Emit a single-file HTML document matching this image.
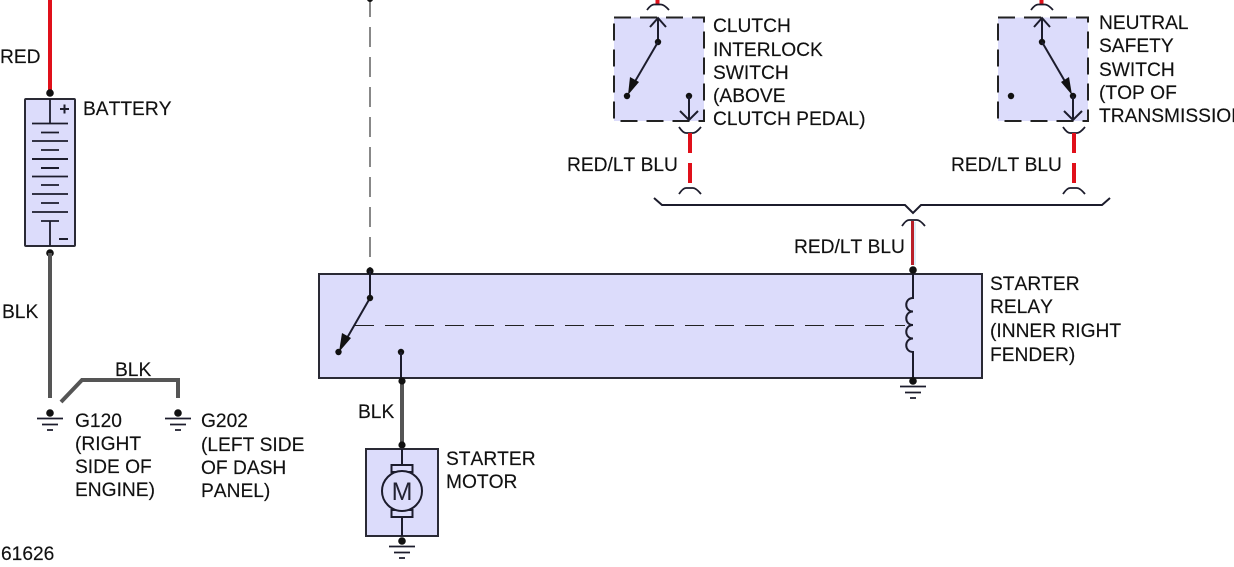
<!DOCTYPE html>
<html><head><meta charset="utf-8"><style>
html,body{margin:0;padding:0;background:#fff;width:1234px;height:567px;overflow:hidden}
svg{display:block}
text{font-family:"Liberation Sans",Arial,sans-serif;font-size:19.2px;fill:#111;font-kerning:none;stroke:#111;stroke-width:.15}
.b{fill:#dcdcfb;stroke:#2a2a35;stroke-width:2}
.d{fill:#dcdcfb;stroke:#222;stroke-width:2;stroke-dasharray:17 9}
.l{stroke:#1c1c2c;stroke-width:2;fill:none}
.t{stroke:#1c1c2c;stroke-width:1.8;fill:none}
.k{stroke:#555;stroke-width:4;fill:none}
.r{stroke:#e0101a;stroke-width:4;fill:none}
.o{fill:#111}
</style></head><body>
<svg width="1234" height="567" viewBox="0 0 1234 567" xmlns="http://www.w3.org/2000/svg">
<defs>
<g id="gnd"><circle class="o" r="3.8" cx="0" cy="0"/><path class="t" d="M-13 5.500H13M-8 11.500H8M-3 17H3"/></g>
</defs>

<!-- battery -->
<path class="r" d="M50 0V93"/>
<circle class="o" cx="50" cy="93" r="3.800"/>
<rect class="b" x="25" y="99" width="50" height="147" rx="1"/>
<path class="t" d="M50 99V123M50 221V246"/>
<path class="t" d="M32 123.500H68M41 132.500H59M32 141H68M41 150H59M41 221H59M32 176.500H68M41 185H59M32 194H68M41 203H59M32 212H68"/>
<path class="l" d="M32 159H68M41 168H59"/>
<path class="l" d="M60 109H69M64.500 104.500V113.500M59 239H68"/>
<circle class="o" cx="50" cy="253" r="3.800"/>
<path class="k" d="M50 253V398"/>
<path class="k" d="M61 402L82 380H178V398"/>
<use href="#gnd" x="50" y="413"/>
<use href="#gnd" x="178" y="413"/>

<!-- starter relay -->
<path d="M370 0V270" stroke="#888" stroke-width="2" stroke-dasharray="20 10" stroke-dashoffset="3" fill="none"/>
<circle class="o" cx="370" cy="-1" r="3"/>
<rect class="b" x="319" y="274" width="663" height="104"/>
<path d="M355 325.500H905" stroke="#222" stroke-width="1" stroke-dasharray="19 11" fill="none"/>
<circle class="o" cx="370" cy="271" r="3.600"/>
<path class="l" d="M370 271V298M370 298L343 345"/>
<circle class="o" cx="370" cy="298" r="3.200"/>
<polygon class="o" points="339,352 342,333 351,338"/>
<circle class="o" cx="338.500" cy="352" r="3.200"/>
<circle class="o" cx="401" cy="352" r="3.200"/>
<path class="l" d="M401 352V380"/>
<path class="k" d="M402 381V445"/>
<circle class="o" cx="402" cy="381" r="3.600"/>
<circle class="o" cx="402" cy="445" r="3.600"/>
<!-- coil -->
<path class="l" d="M913 274V298C904 298 904 311.500 913 311.500C904 311.500 904 325 913 325C904 325 904 338.500 913 338.500C904 338.500 904 352 913 352V378"/>
<use href="#gnd" x="913" y="381"/>

<!-- motor -->
<rect class="b" x="366" y="449" width="72" height="87"/>
<path class="l" d="M402 449V465M402 517V536"/>
<rect class="l" x="391.500" y="465" width="21" height="7"/>
<rect class="l" x="391.500" y="510" width="21" height="7"/>
<circle cx="402" cy="491" r="20" fill="#dcdcfb" stroke="#1c1c2c" stroke-width="2"/>
<use href="#gnd" x="402" y="541"/>

<!-- clutch switch -->
<rect class="d" x="614" y="17.500" width="90" height="103.500"/>
<path class="r" d="M657.500 0V5"/>
<path class="t" d="M647 10Q651 4.500 654 4.500H661Q664 4.500 669 10"/>
<path class="l" d="M658 19V42M650 27L658 18L666 27"/>
<circle class="o" cx="658" cy="42" r="3.200"/>
<path class="l" d="M658 42L630 90"/>
<polygon class="o" points="628,95 630,77 639,82"/>
<circle class="o" cx="627" cy="96" r="3.200"/>
<circle class="o" cx="689" cy="96" r="3.200"/>
<path class="l" d="M689 96V120M680 111L689 120L698 111"/>
<path class="t" d="M679 127Q683 133 686 133H693Q696 133 701 127"/>
<path class="r" d="M690 133V153M690 163V183"/>
<path class="t" d="M679 194Q683 188 686 188H693Q696 188 701 194"/>

<!-- neutral switch -->
<rect class="d" x="998" y="17.500" width="90" height="103.500"/>
<path class="r" d="M1041.500 0V5"/>
<path class="t" d="M1031 10Q1035 4.500 1038 4.500H1045Q1048 4.500 1053 10"/>
<path class="l" d="M1042 19V42M1034 27L1042 18L1050 27"/>
<circle class="o" cx="1042" cy="42" r="3.200"/>
<path class="l" d="M1042 42L1070 90"/>
<polygon class="o" points="1072,95 1061,82 1069,77"/>
<circle class="o" cx="1073" cy="96" r="3.200"/>
<circle class="o" cx="1011" cy="96" r="3.200"/>
<path class="l" d="M1073 96V120M1064 111L1073 120L1082 111"/>
<path class="t" d="M1063 127Q1067 133 1070 133H1077Q1080 133 1085 127"/>
<path class="r" d="M1074 133V153M1074 163V183"/>
<path class="t" d="M1063 194Q1067 188 1070 188H1077Q1080 188 1085 194"/>

<!-- bus -->
<path class="l" d="M654 198L662 205H905L913 213L921 205H1102L1110 198"/>
<path class="t" d="M902 226Q906 220 909 220H917Q920 220 925 226"/>
<path d="M915 222V265" stroke="#cfe8f5" stroke-width="1.500"/>
<path d="M912.500 221V265" stroke="#b8202a" stroke-width="3"/>
<circle class="o" cx="913" cy="270" r="3.800"/>

<!-- labels -->
<g transform="translate(0 1)">
<text x="402" y="499" text-anchor="middle" style="font-size:25px;fill:#223;stroke:none">M</text>
<text x="0" y="62">RED</text>
<text x="83" y="114">BATTERY</text>
<text x="2" y="317">BLK</text>
<text x="115" y="375">BLK</text>
<text x="75" y="426">G120</text>
<text x="75" y="449">(RIGHT</text>
<text x="75" y="472">SIDE OF</text>
<text x="75" y="495">ENGINE)</text>
<text x="201" y="426">G202</text>
<text x="201" y="450">(LEFT SIDE</text>
<text x="201" y="473">OF DASH</text>
<text x="201" y="496">PANEL)</text>
<text x="1" y="559">61626</text>
<text x="358" y="417">BLK</text>
<text x="446" y="464">STARTER</text>
<text x="446" y="487">MOTOR</text>
<text x="713" y="31">CLUTCH</text>
<text x="713" y="55">INTERLOCK</text>
<text x="713" y="78">SWITCH</text>
<text x="713" y="101">(ABOVE</text>
<text x="713" y="124">CLUTCH PEDAL)</text>
<text x="1099" y="28">NEUTRAL</text>
<text x="1099" y="51">SAFETY</text>
<text x="1099" y="75">SWITCH</text>
<text x="1099" y="98">(TOP OF</text>
<text x="1099" y="121">TRANSMISSION)</text>
<text x="567" y="170">RED/LT BLU</text>
<text x="951" y="170">RED/LT BLU</text>
<text x="794" y="252">RED/LT BLU</text>
<text x="990" y="289">STARTER</text>
<text x="990" y="312">RELAY</text>
<text x="990" y="336">(INNER RIGHT</text>
<text x="990" y="360">FENDER)</text>
</g>
</svg>
</body></html>
